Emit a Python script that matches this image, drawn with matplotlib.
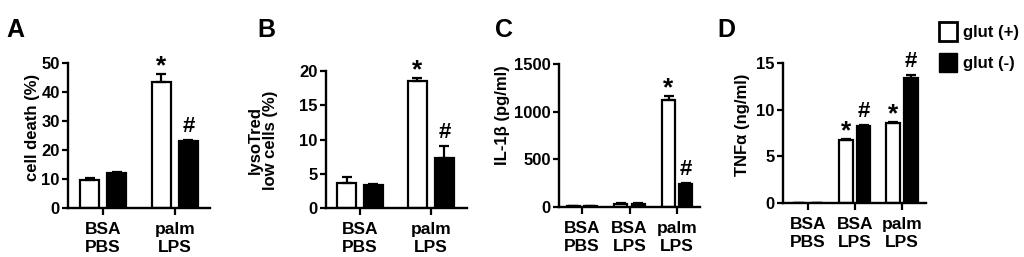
import numpy as np
import matplotlib.pyplot as plt
from matplotlib.patches import Patch

plt.rcParams['font.family'] = ['Liberation Sans', 'DejaVu Sans']
plt.rcParams['font.weight'] = 'bold'

# data (glut (+) = white, glut (-) = black)
A_groups = ['BSA\nPBS', 'palm\nLPS']
A_plus = [9.6, 43.5]
A_plus_err = [0.7, 2.7]
A_minus = [12.2, 23.2]
A_minus_err = [0.3, 0.4]

B_groups = ['BSA\nPBS', 'palm\nLPS']
B_plus = [3.7, 18.5]
B_plus_err = [0.8, 0.5]
B_minus = [3.4, 7.3]
B_minus_err = [0.1, 1.8]

C_groups = ['BSA\nPBS', 'BSA\nLPS', 'palm\nLPS']
C_plus = [10, 35, 1120]
C_plus_err = [2, 5, 45]
C_minus = [10, 35, 240]
C_minus_err = [2, 5, 10]

D_groups = ['BSA\nPBS', 'BSA\nLPS', 'palm\nLPS']
D_plus = [0, 6.8, 8.6]
D_plus_err = [0, 0.05, 0.1]
D_minus = [0, 8.3, 13.4]
D_minus_err = [0, 0.1, 0.35]

W, H = 1024, 257
fig = plt.figure(figsize=(W / 100, H / 100), dpi=100)


def px_axes(left, right, top, bottom):
    return fig.add_axes([left / W, 1 - bottom / H, (right - left) / W, (bottom - top) / H])


def panel(ax, groups, plus, plus_err, minus, minus_err, width, offset, xlim,
          ylim, yticks, stars, hashes):
    x = np.arange(len(groups))
    zeros = np.zeros(len(groups))
    ax.bar(x - offset, plus, width, color='white', edgecolor='black', linewidth=1.6,
           yerr=[zeros, plus_err], capsize=3.5,
           error_kw=dict(elinewidth=1.6, capthick=1.6, ecolor='black'), zorder=2)
    ax.bar(x + offset, minus, width, color='black', edgecolor='black', linewidth=1.6,
           yerr=[zeros, minus_err], capsize=3.5,
           error_kw=dict(elinewidth=1.6, capthick=1.6, ecolor='black'), zorder=2)
    for i in stars:
        ax.annotate('*', (x[i] - offset, plus[i] + plus_err[i]), xytext=(0, -3),
                    textcoords='offset points', ha='center', va='bottom',
                    fontsize=19, fontweight='bold', annotation_clip=False)
    for i in hashes:
        ax.annotate('#', (x[i] + offset, minus[i] + minus_err[i]), xytext=(0, 2),
                    textcoords='offset points', ha='center', va='bottom',
                    fontsize=16, fontweight='bold', annotation_clip=False)
    ax.set_xlim(*xlim)
    ax.set_ylim(*ylim)
    ax.set_yticks(yticks)
    ax.set_xticks(x)
    ax.set_xticklabels(groups, fontsize=12.5, fontweight='bold', linespacing=1.3)
    ax.tick_params(axis='y', labelsize=12, width=1.6, length=4, pad=2)
    ax.tick_params(axis='x', width=1.6, length=5, pad=5)
    for lab in ax.get_yticklabels():
        lab.set_fontweight('bold')
    for s in ['top', 'right']:
        ax.spines[s].set_visible(False)
    for s in ['left', 'bottom']:
        ax.spines[s].set_linewidth(1.7)


axA = px_axes(68, 210, 63, 208)
panel(axA, A_groups, A_plus, A_plus_err, A_minus, A_minus_err, 0.26, 0.19,
      (-0.49, 1.49), (0, 50), [0, 10, 20, 30, 40, 50], [1], [1])

axB = px_axes(326, 467, 71, 208)
panel(axB, B_groups, B_plus, B_plus_err, B_minus, B_minus_err, 0.27, 0.19,
      (-0.48, 1.51), (0, 20), [0, 5, 10, 15, 20], [1], [1])

axC = px_axes(559, 700, 64, 207)
panel(axC, C_groups, C_plus, C_plus_err, C_minus, C_minus_err, 0.27, 0.18,
      (-0.48, 2.48), (0, 1500), [0, 500, 1000, 1500], [2], [2])

axD = px_axes(783, 926, 63, 203)
panel(axD, D_groups, D_plus, D_plus_err, D_minus, D_minus_err, 0.28, 0.19,
      (-0.53, 2.51), (0, 15), [0, 5, 10, 15], [1, 2], [1, 2])

# y labels
fig.text(33 / W, 1 - 127 / H, 'cell death (%)', rotation=90, ha='center', va='center',
         fontsize=12, fontweight='bold')
fig.text(263 / W, 1 - 140 / H, 'lysoTred\nlow cells (%)', rotation=90, ha='center',
         va='center', fontsize=12, fontweight='bold', linespacing=1.0)
fig.text(502 / W, 1 - 115 / H, 'IL-1β (pg/ml)', rotation=90, ha='center', va='center',
         fontsize=12, fontweight='bold')
fig.text(742 / W, 1 - 125 / H, 'TNFα (ng/ml)', rotation=90, ha='center', va='center',
         fontsize=12, fontweight='bold')

# panel letters
for letter, xp in zip('ABCD', [6, 257, 495, 717]):
    fig.text(xp / W, 1 - 37 / H, letter, ha='left', va='baseline', fontsize=18,
             fontweight='bold')

handles = [Patch(facecolor='white', edgecolor='black', linewidth=2),
           Patch(facecolor='black', edgecolor='black')]
fig.legend(handles, ['glut (+)', 'glut (-)'], loc='upper left',
           bbox_to_anchor=(939 / W, 1 - 22 / H), frameon=False, borderaxespad=0,
           borderpad=0, handlelength=1.05, handleheight=1.35, handletextpad=0.4,
           labelspacing=0.75, prop=dict(size=12, weight='bold'))

fig.savefig('out.png', dpi=100)
